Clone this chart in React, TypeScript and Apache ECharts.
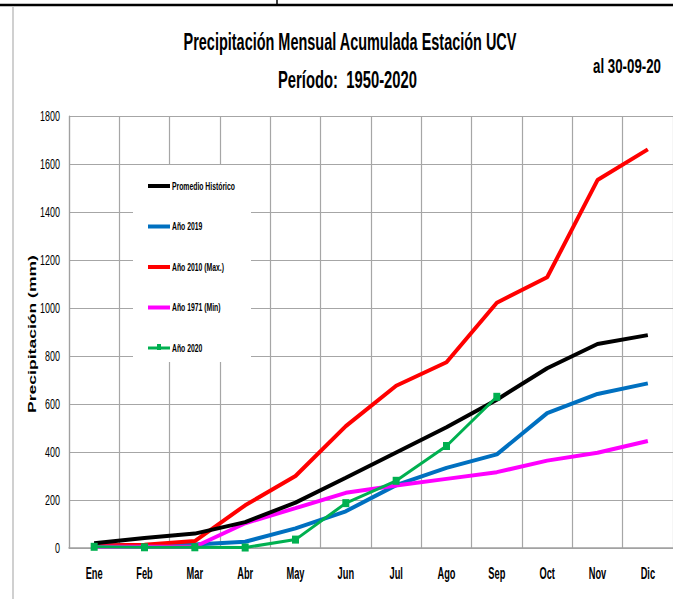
import React, { useEffect, useRef } from 'react';
import * as echarts from 'echarts';

const months = ['Ene', 'Feb', 'Mar', 'Abr', 'May', 'Jun', 'Jul', 'Ago', 'Sep', 'Oct', 'Nov', 'Dic'];
const promedioHistorico = [20, 42, 60, 108, 189, 293, 398, 503, 618, 749, 850, 887];
const ano2019 = [10, 12, 15, 26, 82, 153, 262, 334, 390, 562, 642, 686];
const ano2010 = [10, 14, 29, 178, 300, 508, 676, 774, 1022, 1128, 1533, 1661];
const ano1971 = [5, 5, 5, 103, 166, 230, 260, 288, 316, 364, 397, 446];
const ano2020 = [5, 3, 3, 2, 35, 187, 280, 425, 630];

const seriesNames = ['Promedio Histórico', 'Año 2019', 'Año 2010 (Max.)', 'Año 1971 (Min)', 'Año 2020'];
const seriesColors = ['#000000', '#0070C0', '#FF0000', '#FF00FF', '#00B050'];

const yMin = 0;
const yMax = 1800;
const yStep = 200;
const yTickLabels = ['0', '200', '400', '600', '800', '1000', '1200', '1400', '1600', '1800'];

const titleLine1 = 'Precipitación Mensual Acumulada Estación UCV';
const titleLine2 = 'Período:  1950-2020';
const dateNote = 'al 30-09-20';
const yAxisTitle = 'Precipitación (mm)';

function measure(text: string, font: string): number {
  const c = document.createElement('canvas');
  const ctx = c.getContext('2d');
  if (!ctx) return text.length * 8;
  ctx.font = font;
  return ctx.measureText(text).width;
}

export default function App() {
  const ref = useRef<HTMLDivElement>(null);

  useEffect(() => {
    if (!ref.current) return;
    const chart = echarts.init(ref.current, null, { renderer: 'svg' });

    const titleFont = 'bold 24px "Liberation Sans"';
    const noteFont = 'bold 20px "Liberation Sans"';
    const legendFont = 'bold 11px "Liberation Sans"';
    const yNameFont = 'bold 12px "Liberation Sans"';
    const xLabFont = 'bold 16px "Liberation Sans"';
    const yLabFont = '14px "Liberation Sans"';

    const s1 = 334 / measure(titleLine1, titleFont);
    const s2 = 139 / measure(titleLine2, titleFont);
    const s3 = 68 / measure(dateNote, noteFont);
    const sLeg = 63 / measure(seriesNames[0], legendFont);
    const sY = 158 / measure(yAxisTitle, yNameFont);
    const sXLab = 17 / measure(months[0], xLabFont);
    const sYLab = 20 / measure('1800', yLabFont);

    const dataSets = [promedioHistorico, ano2019, ano2010, ano1971, ano2020];

    const option: any = {
      animation: false,
      backgroundColor: '#ffffff',
      grid: { left: 69, right: -1, top: 116, bottom: 51, containLabel: false },
      xAxis: {
        type: 'category',
        data: months,
        boundaryGap: true,
        axisLine: { show: true, lineStyle: { color: '#a0a0a0', width: 1.5 } },
        axisTick: { show: false },
        splitLine: { show: true, lineStyle: { color: '#a6a6a6', width: 1.2 } },
        axisLabel: { show: false },
      },
      yAxis: {
        type: 'value',
        min: yMin,
        max: yMax,
        interval: yStep,
        axisLine: { show: true, lineStyle: { color: '#a0a0a0', width: 1.2 } },
        axisTick: { show: false },
        splitLine: { show: true, lineStyle: { color: '#a6a6a6', width: 1.2 } },
        axisLabel: { show: false },
      },
      series: dataSets.map((d, i) => ({
        name: seriesNames[i],
        type: 'line',
        data: d,
        symbol: i === 4 ? 'rect' : 'none',
        symbolSize: i === 4 ? [7, 8] : 0,
        itemStyle: { color: seriesColors[i] },
        lineStyle: { color: seriesColors[i], width: i === 4 ? 3 : 4 },
        z: 2 + (i === 4 ? 3 : i === 0 ? 2 : 1),
      })),
    };

    chart.setOption(option);

    // axis labels placed through the chart's own scales
    const labelEls: any[] = [];
    months.forEach((m) => {
      const px = chart.convertToPixel({ xAxisIndex: 0 }, m) as number;
      labelEls.push({
        type: 'text',
        x: px,
        y: 573,
        scaleX: sXLab,
        style: { text: m, font: xLabFont, fill: '#000', align: 'center', verticalAlign: 'middle' },
      });
    });
    yTickLabels.forEach((t) => {
      const py = chart.convertToPixel({ yAxisIndex: 0 }, Number(t)) as number;
      labelEls.push({
        type: 'text',
        x: 60,
        y: py,
        scaleX: sYLab,
        style: { text: t, font: yLabFont, fill: '#000', align: 'right', verticalAlign: 'middle' },
      });
    });

    const legendEls: any[] = [
      {
        type: 'rect',
        shape: { x: 133, y: 165, width: 118, height: 197 },
        style: { fill: '#ffffff' },
        z: 50,
      },
    ];
    seriesNames.forEach((name, i) => {
      const y = 186 + 40.5 * i;
      const isGreen = i === 4;
      legendEls.push({
        type: 'line',
        shape: { x1: 148, y1: y, x2: 170, y2: y },
        style: { stroke: seriesColors[i], lineWidth: isGreen ? 3 : 4 },
        z: 51,
      });
      if (isGreen) {
        legendEls.push({
          type: 'rect',
          shape: { x: 157, y: y - 4, width: 4, height: 6 },
          style: { fill: seriesColors[i] },
          z: 52,
        });
      }
      legendEls.push({
        type: 'text',
        x: 172,
        y: y,
        scaleX: sLeg,
        style: { text: name, font: legendFont, fill: '#000', align: 'left', verticalAlign: 'middle' },
        z: 52,
      });
    });

    chart.setOption({
      graphic: [
        {
          type: 'line',
          shape: { x1: 0, y1: 5, x2: 673, y2: 5 },
          style: { stroke: '#000', lineWidth: 2.5 },
        },
        {
          type: 'line',
          shape: { x1: 277, y1: 0, x2: 277, y2: 5 },
          style: { stroke: '#000', lineWidth: 1.5 },
        },
        {
          type: 'line',
          shape: { x1: 13, y1: 6, x2: 13, y2: 599 },
          style: { stroke: '#c0c0c0', lineWidth: 1.5 },
        },
        {
          type: 'text',
          x: 350,
          y: 42,
          scaleX: s1,
          style: { text: titleLine1, font: titleFont, fill: '#000', align: 'center', verticalAlign: 'middle' },
        },
        {
          type: 'text',
          x: 347.5,
          y: 80,
          scaleX: s2,
          style: { text: titleLine2, font: titleFont, fill: '#000', align: 'center', verticalAlign: 'middle' },
        },
        {
          type: 'text',
          x: 627,
          y: 67,
          scaleX: s3,
          style: { text: dateNote, font: noteFont, fill: '#000', align: 'center', verticalAlign: 'middle' },
        },
        {
          type: 'text',
          x: 32,
          y: 334,
          rotation: Math.PI / 2,
          scaleX: sY,
          scaleY: 0.9,
          style: { text: yAxisTitle, font: yNameFont, fill: '#000', align: 'center', verticalAlign: 'middle' },
        },
        ...labelEls,
        ...legendEls,
      ],
    });

    return () => {
      chart.dispose();
    };
  }, []);

  return (
    <div
      ref={ref}
      style={{ position: 'fixed', left: 0, top: 0, width: 673, height: 599, background: '#fff' }}
    />
  );
}
